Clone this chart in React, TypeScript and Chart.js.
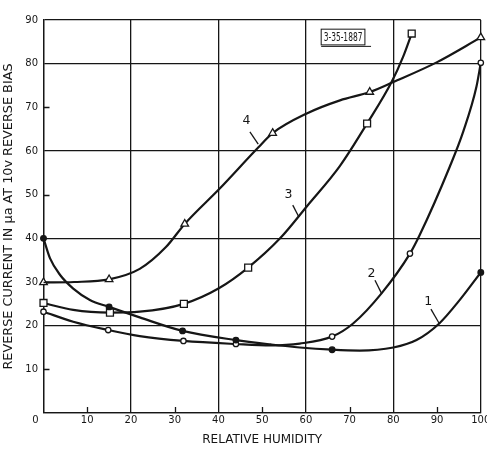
import { useEffect, useRef } from "react";
import { Chart, registerables } from "chart.js";

Chart.register(...registerables);

// ---------- data ----------
// measured points (markers)
const c1X = [0, 15, 31.8, 44, 66, 100];
const c1Y = [40, 24.3, 18.8, 16.7, 14.5, 32.2];
const c2X = [0, 14.8, 32, 44, 66, 83.8, 100];
const c2Y = [23.2, 19.0, 16.5, 15.8, 17.5, 36.5, 80.2];
const c3X = [0, 15.2, 32.1, 46.8, 74, 84.2];
const c3Y = [25.2, 23.0, 25.0, 33.3, 66.3, 86.9];
const c4X = [0, 15, 32.3, 52.4, 74.6, 100];
const c4Y = [29.9, 30.6, 43.3, 64.1, 73.5, 86];

// readings taken along each drawn curve
const t1X = [0, 1.5, 3.8, 6.8, 10.6, 15, 22, 31.8, 44, 52, 58.6, 66, 72.3, 80, 85.3, 90.5, 95.2, 100];
const t1Y = [40, 35.4, 31.6, 28.5, 25.9, 24.3, 21.9, 18.8, 16.7, 15.7, 15.0, 14.5, 14.3, 15.0, 16.7, 20.5, 25.9, 32.2];
const t2X = [0, 6.8, 14.8, 22, 32, 44, 52, 58.6, 66, 70.8, 77.3, 83.8, 86, 92.9, 96, 99, 100];
const t2Y = [23.2, 20.9, 19.0, 17.6, 16.5, 15.8, 15.5, 15.9, 17.5, 20.5, 27.4, 36.5, 40.7, 56.4, 64.5, 74.7, 80.2];
const t3X = [0, 6.8, 15.2, 22, 32.1, 40, 46.8, 54.1, 60.2, 67.8, 74, 79.6, 82.2, 84.2];
const t3Y = [25.2, 23.6, 23.0, 23.2, 25.0, 28.5, 33.3, 40, 47.3, 56.6, 66.3, 75.8, 81.5, 86.9];
const t4X = [0, 7, 15, 22, 28, 32.3, 40.3, 49.1, 52.4, 60.2, 67.8, 74.6, 80, 89.9, 100];
const t4Y = [29.9, 30.0, 30.6, 33.0, 38.0, 43.3, 51.4, 60.8, 64.1, 68.6, 71.6, 73.5, 75.8, 80.3, 86];

const curveNames = ["1", "2", "3", "4"];
const xTitle = "RELATIVE HUMIDITY";
const yTitle = "REVERSE CURRENT IN μa AT 10v REVERSE BIAS";
const stampText = "3-35-1887";
const minorXTicks = [10, 30, 50, 70, 90];
const minorYTicks = [10, 30, 50, 70];

// annotation placement (in data units)
const curveLabelPos = [
  { x: 88.0, y: 25.5, lx1: 88.6, ly1: 23.8, lx2: 90.5, ly2: 20.5 },
  { x: 75.0, y: 32.0, lx1: 75.8, ly1: 30.4, lx2: 77.3, ly2: 27.4 },
  { x: 56.0, y: 49.9, lx1: 57.0, ly1: 47.6, lx2: 58.4, ly2: 44.9 },
  { x: 46.4, y: 66.9, lx1: 47.2, ly1: 64.4, lx2: 49.1, ly2: 61.6 },
];
const stampBox = { x1: 63.5, x2: 73.5, x3: 74.9, y1: 87.9, y2: 84.3 };

const pts = (xs: number[], ys: number[]) => xs.map((x, i) => ({ x, y: ys[i] }));

const INK = "#161616";
const FONT = "'DejaVu Sans', sans-serif";

export default function App() {
  const ref = useRef<HTMLCanvasElement>(null);

  useEffect(() => {
    const canvas = ref.current!;
    const markerBase = { showLine: false, order: 0, clip: false as any, borderColor: INK, pointBorderWidth: 1.3 };
    const lineBase = {
      showLine: true, order: 1, pointRadius: 0, borderColor: INK, borderWidth: 2.2,
      cubicInterpolationMode: "monotone" as const, fill: false,
    };

    const annot = {
      id: "annot",
      afterDraw(chart: any) {
        const { ctx, chartArea, scales } = chart;
        const xs = scales.x, ys = scales.y;
        ctx.save();
        ctx.strokeStyle = INK;
        ctx.fillStyle = INK;
        ctx.lineWidth = 1.3;
        // inner minor ticks
        ctx.beginPath();
        minorXTicks.forEach((v) => {
          const px = Math.round(xs.getPixelForValue(v)) + 0.5;
          ctx.moveTo(px, chartArea.bottom);
          ctx.lineTo(px, chartArea.bottom - 6);
        });
        minorYTicks.forEach((v) => {
          const py = Math.round(ys.getPixelForValue(v)) + 0.5;
          ctx.moveTo(chartArea.left, py);
          ctx.lineTo(chartArea.left + 6, py);
        });
        ctx.stroke();
        // origin label
        ctx.font = `10px ${FONT}`;
        ctx.textAlign = "center";
        ctx.textBaseline = "middle";
        ctx.fillText("0", xs.getPixelForValue(0) - 8, chartArea.bottom + 7.5);
        // curve labels with leaders
        ctx.font = `12.5px ${FONT}`;
        curveLabelPos.forEach((p, i) => {
          ctx.fillText(curveNames[i], xs.getPixelForValue(p.x), ys.getPixelForValue(p.y));
          ctx.beginPath();
          ctx.moveTo(xs.getPixelForValue(p.lx1), ys.getPixelForValue(p.ly1));
          ctx.lineTo(xs.getPixelForValue(p.lx2), ys.getPixelForValue(p.ly2));
          ctx.stroke();
        });
        // stamp box
        const bx1 = xs.getPixelForValue(stampBox.x1);
        const bx2 = xs.getPixelForValue(stampBox.x2);
        const bx3 = xs.getPixelForValue(stampBox.x3);
        const by1 = ys.getPixelForValue(stampBox.y1);
        const by2 = ys.getPixelForValue(stampBox.y2);
        ctx.lineWidth = 1;
        ctx.strokeRect(bx1, by1, bx2 - bx1, by2 - by1);
        ctx.beginPath();
        ctx.moveTo(bx1, by2 + 1.5);
        ctx.lineTo(bx3, by2 + 1.5);
        ctx.stroke();
        ctx.font = `12.5px ${FONT}`;
        ctx.fillText(stampText, (bx1 + bx2) / 2, (by1 + by2) / 2 + 0.5, bx2 - bx1 - 5);
        ctx.restore();
      },
    };

    const chart = new Chart(canvas, {
      type: "line",
      data: {
        datasets: [
          { ...markerBase, data: pts(c1X, c1Y), pointStyle: "circle", pointRadius: 2.8, pointBackgroundColor: INK },
          { ...markerBase, data: pts(c2X, c2Y), pointStyle: "circle", pointRadius: 2.7, pointBackgroundColor: "#fff" },
          { ...markerBase, data: pts(c3X, c3Y), pointStyle: "rect", pointRadius: 4.9, pointBackgroundColor: "#fff" },
          { ...markerBase, data: pts(c4X, c4Y), pointStyle: "triangle", pointRadius: 4.4, pointBackgroundColor: "#fff" },
          { ...lineBase, data: pts(t1X, t1Y) },
          { ...lineBase, data: pts(t2X, t2Y) },
          { ...lineBase, data: pts(t3X, t3Y) },
          { ...lineBase, data: pts(t4X, t4Y) },
        ] as any,
      },
      options: {
        animation: false,
        responsive: false,
        devicePixelRatio: 1,
        layout: { padding: { top: 20, right: 6, left: 0, bottom: 0 } },
        plugins: { legend: { display: false }, tooltip: { enabled: false } },
        font: { family: FONT } as any,
        scales: {
          x: {
            type: "linear",
            min: 0,
            max: 100,
            ticks: {
              stepSize: 10,
              autoSkip: false,
              maxRotation: 0,
              padding: 1.5,
              color: INK,
              font: { family: FONT, size: 10 },
              callback: (v: any) => (v === 0 ? "" : String(v)),
            },
            grid: {
              drawTicks: false,
              lineWidth: 1.3,
              color: (c: any) => (c.tick && c.tick.value % 20 === 0 ? INK : "rgba(0,0,0,0)"),
            },
            border: { color: INK, width: 1.3 },
            title: {
              display: true,
              text: xTitle,
              color: INK,
              font: { family: FONT, size: 12 },
              padding: { top: 0, bottom: 2.3 },
            },
            afterFit: (s: any) => {
              s.height = 36;
              s.paddingLeft = 0;
              s.paddingRight = 0;
            },
          },
          y: {
            type: "linear",
            min: 0,
            max: 90,
            ticks: {
              stepSize: 10,
              autoSkip: false,
              padding: 5.5,
              color: INK,
              font: { family: FONT, size: 10 },
              callback: (v: any) => (v === 0 ? "" : String(v)),
            },
            grid: {
              drawTicks: false,
              lineWidth: 1.3,
              color: (c: any) =>
                c.tick && (c.tick.value % 20 === 0 || c.tick.value === 90) ? INK : "rgba(0,0,0,0)",
            },
            border: { color: INK, width: 1.3 },
            title: {
              display: true,
              text: yTitle,
              color: INK,
              font: { family: FONT, size: 12.8 },
              padding: { top: 1.3, bottom: 0 },
            },
            afterFit: (s: any) => {
              s.width = 43.5;
              s.paddingTop = 0;
              s.paddingBottom = 0;
            },
          },
        },
      } as any,
      plugins: [annot],
    });
    return () => chart.destroy();
  }, []);

  return (
    <div style={{ position: "fixed", left: 0, top: 0, width: 487, height: 449, background: "#fff" }}>
      <canvas ref={ref} width={487} height={449} style={{ display: "block", width: 487, height: 449 }} />
    </div>
  );
}
